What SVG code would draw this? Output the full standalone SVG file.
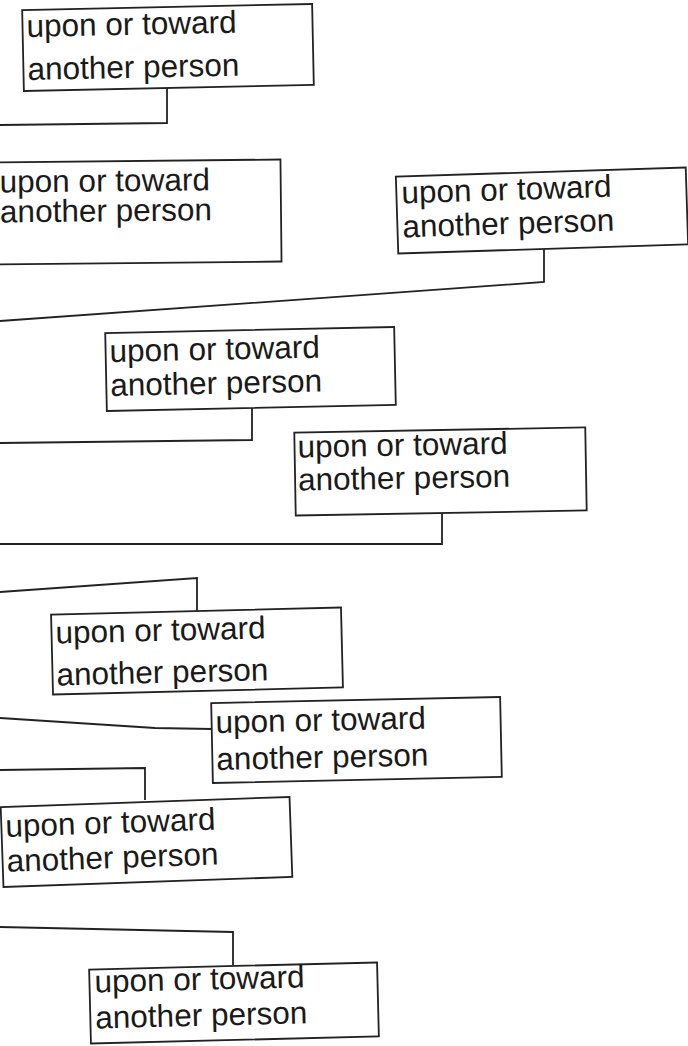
<svg xmlns="http://www.w3.org/2000/svg" width="688" height="1046" viewBox="0 0 688 1046">
<style>
.box rect{fill:#fff;stroke:#222;stroke-width:1.8}
.box text{font-family:"Liberation Sans",Arial,sans-serif;font-size:31.5px;fill:#1a1a1a}
#connectors polyline{fill:none;stroke:#222;stroke-width:1.8}
</style>
<rect x="0" y="0" width="688" height="1046" fill="#fff"/>
<g id="connectors">
<polyline points="167,88 167,123 0,125"/>
<polyline points="544,248 544,282 0,321"/>
<polyline points="252,407 252,440 0,443"/>
<polyline points="442,510 442,544 0,544"/>
<polyline points="0,592 197,578 197,611"/>
<polyline points="0,718 155,728 212,729"/>
<polyline points="0,770 145,768 145,800"/>
<polyline points="0,927 233,932 233,965"/>
</g>
<g id="node1" class="box" transform="rotate(-1.2 168 48)">
<rect x="23" y="7" width="290" height="81"/>
<text x="27" y="34">upon or toward</text>
<text x="27" y="77">another person</text>
</g>
<g id="node2" class="box" transform="rotate(-0.6 139 212)">
<rect x="-3" y="161" width="284" height="102"/>
<text x="0" y="191">upon or toward</text>
<text x="0" y="221">another person</text>
</g>
<g id="node3" class="box" transform="rotate(-1.8 542 211)">
<rect x="397" y="172" width="290" height="77"/>
<text x="402" y="199">upon or toward</text>
<text x="402" y="233">another person</text>
</g>
<g id="node4" class="box" transform="rotate(-1.2 250 369)">
<rect x="106" y="330" width="289" height="78"/>
<text x="110" y="359">upon or toward</text>
<text x="110" y="393">another person</text>
</g>
<g id="node5" class="box" transform="rotate(-1.0 440 472)">
<rect x="295" y="430" width="291" height="83"/>
<text x="298" y="455">upon or toward</text>
<text x="298" y="488">another person</text>
</g>
<g id="node6" class="box" transform="rotate(-1.4 197 651)">
<rect x="52" y="611" width="290" height="80"/>
<text x="56" y="640">upon or toward</text>
<text x="56" y="682">another person</text>
</g>
<g id="node7" class="box" transform="rotate(-1.2 356 740)">
<rect x="212" y="700" width="289" height="80"/>
<text x="216" y="730">upon or toward</text>
<text x="216" y="767">another person</text>
</g>
<g id="node8" class="box" transform="rotate(-2.0 146 842)">
<rect x="2" y="802" width="289" height="80"/>
<text x="6" y="832">upon or toward</text>
<text x="6" y="867">another person</text>
</g>
<g id="node9" class="box" transform="rotate(-1.4 234 1003)">
<rect x="90" y="966" width="288" height="74"/>
<text x="95" y="989">upon or toward</text>
<text x="95" y="1025">another person</text>
</g>
</svg>
